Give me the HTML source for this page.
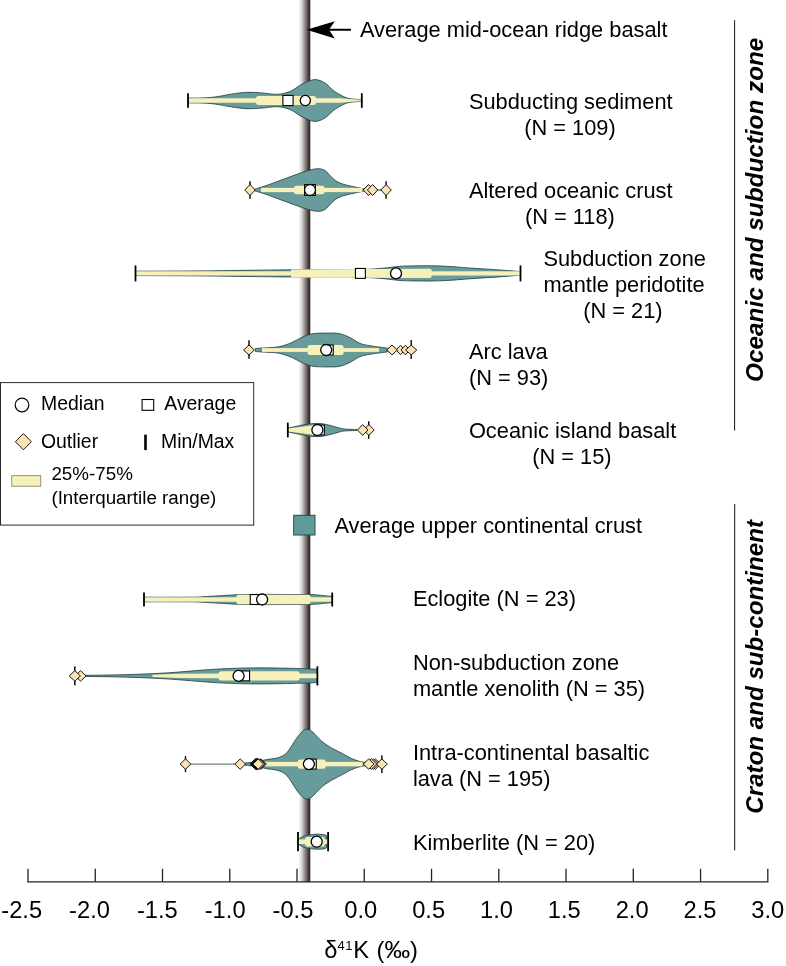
<!DOCTYPE html>
<html><head><meta charset="utf-8"><title>K isotope violin plot</title>
<style>
html,body{margin:0;padding:0;background:#fff;}
body{width:786px;height:966px;overflow:hidden;}
svg{display:block;}
text{font-family:"Liberation Sans",sans-serif;fill:#000;}
.lb{font-size:21.82px;}
.lg{font-size:18.8px;}
.lg2{font-size:19.4px;}
.ax{font-size:23.7px;}
.rt{font-size:24px;font-weight:bold;font-style:italic;}
</style></head>
<body>
<svg width="786" height="966" viewBox="0 0 786 966">
<defs>
<linearGradient id="barg" x1="0" y1="0" x2="1" y2="0">
<stop offset="0" stop-color="#ffffff"/>
<stop offset="0.25" stop-color="#dcdad9"/>
<stop offset="0.5" stop-color="#9d9896"/>
<stop offset="0.75" stop-color="#5f5654"/>
<stop offset="0.9" stop-color="#382d2b"/>
<stop offset="1" stop-color="#2e2422"/>
</linearGradient>
</defs>
<rect x="0" y="0" width="786" height="966" fill="#fff"/>
<rect x="298.5" y="0" width="11.8" height="882" fill="url(#barg)"/>
<line x1="318" y1="29.8" x2="351" y2="29.8" stroke="#000" stroke-width="2"/>
<path d="M306.5,29.8 L334.8,21.3 L329,29.8 L334.8,38.6 Z" fill="#000"/>
<path d="M188.00,98.10 C190.00,98.08 196.33,98.10 200.00,98.00 C203.67,97.90 206.67,97.80 210.00,97.50 C213.33,97.20 216.33,96.78 220.00,96.20 C223.67,95.62 227.50,94.65 232.00,94.00 C236.50,93.35 242.00,92.48 247.00,92.30 C252.00,92.12 257.00,92.57 262.00,92.90 C267.00,93.23 272.33,94.53 277.00,94.30 C281.67,94.07 285.83,93.18 290.00,91.50 C294.17,89.82 297.92,86.18 302.00,84.20 C306.08,82.22 310.67,79.80 314.50,79.60 C318.33,79.40 321.82,81.15 325.00,83.00 C328.18,84.85 330.47,88.42 333.60,90.70 C336.73,92.98 340.83,95.33 343.80,96.70 C346.77,98.07 348.37,98.42 351.40,98.90 C354.43,99.38 360.23,99.48 362.00,99.60 L362.00,101.40 C360.23,101.52 354.43,101.62 351.40,102.10 C348.37,102.58 346.77,102.93 343.80,104.30 C340.83,105.67 336.73,108.02 333.60,110.30 C330.47,112.58 328.18,116.15 325.00,118.00 C321.82,119.85 318.33,121.60 314.50,121.40 C310.67,121.20 306.08,118.78 302.00,116.80 C297.92,114.82 294.17,111.18 290.00,109.50 C285.83,107.82 281.67,106.93 277.00,106.70 C272.33,106.47 267.00,107.77 262.00,108.10 C257.00,108.43 252.00,108.88 247.00,108.70 C242.00,108.52 236.50,107.65 232.00,107.00 C227.50,106.35 223.67,105.38 220.00,104.80 C216.33,104.22 213.33,103.80 210.00,103.50 C206.67,103.20 203.67,103.10 200.00,103.00 C196.33,102.90 190.00,102.92 188.00,102.90 Z" fill="#689b9b" stroke="#1f3a3c" stroke-width="0.8"/>
<path d="M188,98.3 L340,98.3 L352,99.2 L362,99.7 L362,101.3 L352,101.8 L340,102.7 L188,102.7 Z" fill="#f6f1ba"/>
<rect x="256.00" y="95.90" width="60.00" height="9.20" rx="2.5" ry="2.5" fill="#f6f1ba"/>
<line x1="188.00" y1="93.20" x2="188.00" y2="107.80" stroke="#000" stroke-width="1.8"/>
<line x1="361.80" y1="93.20" x2="361.80" y2="107.80" stroke="#000" stroke-width="1.8"/>
<rect x="282.90" y="95.40" width="10.2" height="10.2" fill="#fff" stroke="#000" stroke-width="1.1"/>
<circle cx="305.30" cy="100.50" r="5.1" fill="#fff" stroke="#000" stroke-width="1.3"/>
<line x1="364" y1="190.0" x2="386" y2="190.0" stroke="#3f7475" stroke-width="1.4"/>
<path d="M254.50,189.20 C256.25,188.67 260.75,187.45 265.00,186.00 C269.25,184.55 275.00,182.33 280.00,180.50 C285.00,178.67 290.33,176.67 295.00,175.00 C299.67,173.33 304.17,171.55 308.00,170.50 C311.83,169.45 315.17,168.70 318.00,168.70 C320.83,168.70 322.83,169.20 325.00,170.50 C327.17,171.80 329.00,174.65 331.00,176.50 C333.00,178.35 334.50,180.18 337.00,181.60 C339.50,183.02 342.83,184.07 346.00,185.00 C349.17,185.93 352.75,186.50 356.00,187.20 C359.25,187.90 363.92,188.87 365.50,189.20 L365.50,190.80 C363.92,191.13 359.25,192.10 356.00,192.80 C352.75,193.50 349.17,194.07 346.00,195.00 C342.83,195.93 339.50,196.98 337.00,198.40 C334.50,199.82 333.00,201.65 331.00,203.50 C329.00,205.35 327.17,208.20 325.00,209.50 C322.83,210.80 320.83,211.30 318.00,211.30 C315.17,211.30 311.83,210.55 308.00,209.50 C304.17,208.45 299.67,206.67 295.00,205.00 C290.33,203.33 285.00,201.33 280.00,199.50 C275.00,197.67 269.25,195.45 265.00,194.00 C260.75,192.55 256.25,191.33 254.50,190.80 Z" fill="#689b9b" stroke="#1f3a3c" stroke-width="0.8"/>
<rect x="261.00" y="187.90" width="101.30" height="4.20" rx="0" ry="0" fill="#f6f1ba"/>
<rect x="294.00" y="185.70" width="30.50" height="8.60" rx="2.5" ry="2.5" fill="#f6f1ba"/>
<line x1="250.00" y1="181.30" x2="250.00" y2="198.70" stroke="#000" stroke-width="1.4"/>
<line x1="386.10" y1="181.30" x2="386.10" y2="198.70" stroke="#000" stroke-width="1.4"/>
<path d="M244.80,190.00 L250.00,184.50 L255.20,190.00 L250.00,195.50 Z" fill="#f9e2b4" stroke="#000" stroke-width="0.9" stroke-linejoin="miter"/>
<path d="M363.30,190.00 L368.50,184.50 L373.70,190.00 L368.50,195.50 Z" fill="#f9e2b4" stroke="#000" stroke-width="0.9" stroke-linejoin="miter"/>
<path d="M367.40,190.00 L372.60,184.50 L377.80,190.00 L372.60,195.50 Z" fill="#f9e2b4" stroke="#000" stroke-width="0.9" stroke-linejoin="miter"/>
<path d="M380.90,190.00 L386.10,184.50 L391.30,190.00 L386.10,195.50 Z" fill="#f9e2b4" stroke="#000" stroke-width="0.9" stroke-linejoin="miter"/>
<rect x="304.60" y="184.60" width="10.8" height="10.8" fill="#fff" stroke="#000" stroke-width="1.1"/>
<circle cx="310.00" cy="190.00" r="5.5" fill="#fff" stroke="#000" stroke-width="1.3"/>
<path d="M135.50,271.20 C140.42,271.18 154.25,271.15 165.00,271.10 C175.75,271.05 187.50,271.02 200.00,270.90 C212.50,270.78 226.67,270.57 240.00,270.40 C253.33,270.23 268.33,270.00 280.00,269.90 C291.67,269.80 300.00,269.82 310.00,269.80 C320.00,269.78 330.83,269.87 340.00,269.80 C349.17,269.73 357.50,269.70 365.00,269.40 C372.50,269.10 379.17,268.52 385.00,268.00 C390.83,267.48 395.33,266.65 400.00,266.30 C404.67,265.95 407.50,265.98 413.00,265.90 C418.50,265.82 426.83,265.70 433.00,265.80 C439.17,265.90 445.17,266.23 450.00,266.50 C454.83,266.77 458.00,267.10 462.00,267.40 C466.00,267.70 467.83,267.88 474.00,268.30 C480.17,268.72 491.25,269.35 499.00,269.90 C506.75,270.45 516.92,271.32 520.50,271.60 L520.50,275.20 C516.92,275.48 506.75,276.35 499.00,276.90 C491.25,277.45 480.17,278.08 474.00,278.50 C467.83,278.92 466.00,279.10 462.00,279.40 C458.00,279.70 454.83,280.03 450.00,280.30 C445.17,280.57 439.17,280.90 433.00,281.00 C426.83,281.10 418.50,280.98 413.00,280.90 C407.50,280.82 404.67,280.85 400.00,280.50 C395.33,280.15 390.83,279.32 385.00,278.80 C379.17,278.28 372.50,277.70 365.00,277.40 C357.50,277.10 349.17,277.07 340.00,277.00 C330.83,276.93 320.00,277.02 310.00,277.00 C300.00,276.98 291.67,277.00 280.00,276.90 C268.33,276.80 253.33,276.57 240.00,276.40 C226.67,276.23 212.50,276.02 200.00,275.90 C187.50,275.78 175.75,275.75 165.00,275.70 C154.25,275.65 140.42,275.62 135.50,275.60 Z" fill="#689b9b" stroke="#1f3a3c" stroke-width="0.8"/>
<rect x="135.50" y="271.30" width="385.00" height="4.20" rx="0" ry="0" fill="#f6f1ba"/>
<path d="M291,269.4 L429.5,268.7 Q431.8,268.7 431.8,271.0 L431.8,275.79999999999995 Q431.8,278.09999999999997 429.5,278.09999999999997 L291,277.4 Z" fill="#f6f1ba"/>
<line x1="135.50" y1="265.40" x2="135.50" y2="281.40" stroke="#000" stroke-width="1.8"/>
<line x1="520.50" y1="265.40" x2="520.50" y2="281.40" stroke="#000" stroke-width="1.8"/>
<rect x="355.45" y="268.45" width="9.9" height="9.9" fill="#fff" stroke="#000" stroke-width="1.1"/>
<circle cx="396.00" cy="273.40" r="5.5" fill="#fff" stroke="#000" stroke-width="1.3"/>
<path d="M255.40,348.50 C256.50,348.42 259.90,348.13 262.00,348.00 C264.10,347.87 265.00,347.93 268.00,347.70 C271.00,347.47 276.00,347.47 280.00,346.60 C284.00,345.73 288.17,344.13 292.00,342.50 C295.83,340.87 299.50,338.27 303.00,336.80 C306.50,335.33 309.17,334.32 313.00,333.70 C316.83,333.08 321.67,333.12 326.00,333.10 C330.33,333.08 335.00,332.85 339.00,333.60 C343.00,334.35 346.50,335.97 350.00,337.60 C353.50,339.23 356.67,342.05 360.00,343.40 C363.33,344.75 367.00,345.12 370.00,345.70 C373.00,346.28 375.33,346.53 378.00,346.90 C380.67,347.27 384.25,347.58 386.00,347.90 C387.75,348.22 388.08,348.65 388.50,348.80 L388.50,351.20 C388.08,351.35 387.75,351.78 386.00,352.10 C384.25,352.42 380.67,352.73 378.00,353.10 C375.33,353.47 373.00,353.72 370.00,354.30 C367.00,354.88 363.33,355.25 360.00,356.60 C356.67,357.95 353.50,360.77 350.00,362.40 C346.50,364.03 343.00,365.65 339.00,366.40 C335.00,367.15 330.33,366.92 326.00,366.90 C321.67,366.88 316.83,366.92 313.00,366.30 C309.17,365.68 306.50,364.67 303.00,363.20 C299.50,361.73 295.83,359.13 292.00,357.50 C288.17,355.87 284.00,354.27 280.00,353.40 C276.00,352.53 271.00,352.53 268.00,352.30 C265.00,352.07 264.10,352.13 262.00,352.00 C259.90,351.87 256.50,351.58 255.40,351.50 Z" fill="#689b9b" stroke="#1f3a3c" stroke-width="0.8"/>
<rect x="262.00" y="348.10" width="117.00" height="3.80" rx="0" ry="0" fill="#f6f1ba"/>
<rect x="307.50" y="345.00" width="36.10" height="10.00" rx="2.5" ry="2.5" fill="#f6f1ba"/>
<line x1="249.00" y1="340.20" x2="249.00" y2="358.80" stroke="#000" stroke-width="1.4"/>
<line x1="411.20" y1="339.90" x2="411.20" y2="358.90" stroke="#000" stroke-width="1.4"/>
<path d="M243.60,350.00 L249.00,345.00 L254.40,350.00 L249.00,355.00 Z" fill="#f9e2b4" stroke="#000" stroke-width="0.9" stroke-linejoin="miter"/>
<path d="M396.10,350.00 L400.50,345.20 L404.90,350.00 L400.50,354.80 Z" fill="#f9e2b4" stroke="#000" stroke-width="0.9" stroke-linejoin="miter"/>
<path d="M401.00,350.00 L405.40,345.20 L409.80,350.00 L405.40,354.80 Z" fill="#f9e2b4" stroke="#000" stroke-width="0.9" stroke-linejoin="miter"/>
<path d="M386.60,350.00 L392.00,345.10 L397.40,350.00 L392.00,354.90 Z" fill="#f9e2b4" stroke="#000" stroke-width="0.9" stroke-linejoin="miter"/>
<path d="M405.60,350.00 L411.20,345.10 L416.80,350.00 L411.20,354.90 Z" fill="#f9e2b4" stroke="#000" stroke-width="0.9" stroke-linejoin="miter"/>
<rect x="323.35" y="345.05" width="9.9" height="9.9" fill="#fff" stroke="#000" stroke-width="1.1"/>
<circle cx="326.20" cy="350.00" r="5.5" fill="#fff" stroke="#000" stroke-width="1.3"/>
<path d="M288.00,428.00 C289.33,427.73 293.17,426.97 296.00,426.40 C298.83,425.83 302.00,425.08 305.00,424.60 C308.00,424.12 311.17,423.65 314.00,423.50 C316.83,423.35 319.33,423.38 322.00,423.70 C324.67,424.02 327.33,424.75 330.00,425.40 C332.67,426.05 335.67,427.00 338.00,427.60 C340.33,428.20 340.83,428.68 344.00,429.00 C347.17,429.32 354.83,429.42 357.00,429.50 L357.00,430.50 C354.83,430.58 347.17,430.68 344.00,431.00 C340.83,431.32 340.33,431.80 338.00,432.40 C335.67,433.00 332.67,433.95 330.00,434.60 C327.33,435.25 324.67,435.98 322.00,436.30 C319.33,436.62 316.83,436.65 314.00,436.50 C311.17,436.35 308.00,435.88 305.00,435.40 C302.00,434.92 298.83,434.17 296.00,433.60 C293.17,433.03 289.33,432.27 288.00,432.00 Z" fill="#689b9b" stroke="#1f3a3c" stroke-width="0.8"/>
<path d="M288,428.5 L300,427.1 L313,425.3 L319,425.3 L319,434.7 L313,434.7 L300,432.9 L288,431.5 Z" fill="#f6f1ba"/>
<line x1="287.80" y1="422.60" x2="287.80" y2="437.40" stroke="#000" stroke-width="1.8"/>
<line x1="368.70" y1="421.30" x2="368.70" y2="438.70" stroke="#000" stroke-width="1.4"/>
<path d="M363.60,430.00 L368.90,424.60 L374.20,430.00 L368.90,435.40 Z" fill="#f9e2b4" stroke="#000" stroke-width="0.9" stroke-linejoin="miter"/>
<path d="M357.40,430.00 L362.70,424.60 L368.00,430.00 L362.70,435.40 Z" fill="#f9e2b4" stroke="#000" stroke-width="0.9" stroke-linejoin="miter"/>
<rect x="314.45" y="425.05" width="9.9" height="9.9" fill="#fff" stroke="#000" stroke-width="1.1"/>
<circle cx="317.40" cy="430.00" r="5.5" fill="#fff" stroke="#000" stroke-width="1.3"/>
<rect x="293.7" y="515.3" width="21.3" height="19.7" fill="#5f9b9b" stroke="#2b4a4c" stroke-width="1"/>
<path d="M144.00,597.20 C148.33,597.20 161.50,597.22 170.00,597.20 C178.50,597.18 189.50,597.18 195.00,597.10 C200.50,597.02 198.83,596.92 203.00,596.70 C207.17,596.48 214.50,596.12 220.00,595.80 C225.50,595.48 229.33,595.03 236.00,594.80 C242.67,594.57 251.00,594.45 260.00,594.40 C269.00,594.35 281.67,594.47 290.00,594.50 C298.33,594.53 305.00,594.48 310.00,594.60 C315.00,594.72 316.30,594.88 320.00,595.20 C323.70,595.52 330.17,596.28 332.20,596.50 L332.20,602.50 C330.17,602.72 323.70,603.48 320.00,603.80 C316.30,604.12 315.00,604.28 310.00,604.40 C305.00,604.52 298.33,604.47 290.00,604.50 C281.67,604.53 269.00,604.65 260.00,604.60 C251.00,604.55 242.67,604.43 236.00,604.20 C229.33,603.97 225.50,603.52 220.00,603.20 C214.50,602.88 207.17,602.52 203.00,602.30 C198.83,602.08 200.50,601.98 195.00,601.90 C189.50,601.82 178.50,601.82 170.00,601.80 C161.50,601.78 148.33,601.80 144.00,601.80 Z" fill="#689b9b" stroke="#1f3a3c" stroke-width="0.8"/>
<rect x="144.00" y="597.30" width="188.20" height="4.40" rx="0" ry="0" fill="#f6f1ba"/>
<rect x="236.40" y="594.75" width="74.10" height="9.50" rx="2.5" ry="2.5" fill="#f6f1ba"/>
<line x1="144.00" y1="592.50" x2="144.00" y2="606.50" stroke="#000" stroke-width="1.8"/>
<line x1="332.20" y1="592.50" x2="332.20" y2="606.50" stroke="#000" stroke-width="1.8"/>
<rect x="250.25" y="594.55" width="9.9" height="9.9" fill="#fff" stroke="#000" stroke-width="1.1"/>
<circle cx="262.10" cy="599.50" r="5.5" fill="#fff" stroke="#000" stroke-width="1.3"/>
<path d="M82.00,675.40 C86.67,675.33 100.33,675.20 110.00,675.00 C119.67,674.80 130.00,674.58 140.00,674.20 C150.00,673.82 160.00,673.35 170.00,672.70 C180.00,672.05 190.83,670.97 200.00,670.30 C209.17,669.63 216.17,669.10 225.00,668.70 C233.83,668.30 243.83,668.00 253.00,667.90 C262.17,667.80 271.33,667.97 280.00,668.10 C288.67,668.23 298.80,668.50 305.00,668.70 C311.20,668.90 315.17,669.20 317.20,669.30 L317.20,682.50 C315.17,682.60 311.20,682.90 305.00,683.10 C298.80,683.30 288.67,683.57 280.00,683.70 C271.33,683.83 262.17,684.00 253.00,683.90 C243.83,683.80 233.83,683.50 225.00,683.10 C216.17,682.70 209.17,682.17 200.00,681.50 C190.83,680.83 180.00,679.75 170.00,679.10 C160.00,678.45 150.00,677.98 140.00,677.60 C130.00,677.22 119.67,677.00 110.00,676.80 C100.33,676.60 86.67,676.47 82.00,676.40 Z" fill="#689b9b" stroke="#1f3a3c" stroke-width="0.8"/>
<path d="M152.4,674.6999999999999 L180,673.8 L219,673.5 L219,678.3 L180,678.0 L152.4,677.1 Z" fill="#f6f1ba"/>
<rect x="218.70" y="671.25" width="81.00" height="9.30" rx="2.5" ry="2.5" fill="#f6f1ba"/>
<rect x="299.00" y="673.60" width="18.20" height="4.60" rx="0" ry="0" fill="#f6f1ba"/>
<line x1="74.80" y1="666.50" x2="74.80" y2="685.30" stroke="#000" stroke-width="1.5"/>
<line x1="317.40" y1="666.30" x2="317.40" y2="685.50" stroke="#000" stroke-width="1.8"/>
<path d="M75.00,675.90 L80.60,670.60 L86.20,675.90 L80.60,681.20 Z" fill="#f9e2b4" stroke="#000" stroke-width="0.9" stroke-linejoin="miter"/>
<path d="M69.20,675.90 L74.80,670.60 L80.40,675.90 L74.80,681.20 Z" fill="#f9e2b4" stroke="#000" stroke-width="0.9" stroke-linejoin="miter"/>
<rect x="239.65" y="670.95" width="9.9" height="9.9" fill="#fff" stroke="#000" stroke-width="1.1"/>
<circle cx="238.60" cy="675.90" r="5.5" fill="#fff" stroke="#000" stroke-width="1.3"/>
<line x1="185" y1="764.1" x2="252" y2="764.1" stroke="#333" stroke-width="0.8"/>
<path d="M245.00,763.10 C246.00,762.97 248.87,762.53 251.00,762.30 C253.13,762.07 255.20,762.17 257.80,761.70 C260.40,761.23 263.57,760.07 266.60,759.50 C269.63,758.93 273.27,758.93 276.00,758.30 C278.73,757.67 281.13,756.72 283.00,755.70 C284.87,754.68 285.80,753.77 287.20,752.20 C288.60,750.63 289.72,748.80 291.40,746.30 C293.08,743.80 295.33,739.80 297.30,737.20 C299.27,734.60 301.58,732.03 303.20,730.70 C304.82,729.37 305.55,729.10 307.00,729.20 C308.45,729.30 310.35,730.22 311.90,731.30 C313.45,732.38 314.58,733.98 316.30,735.70 C318.02,737.42 320.00,739.75 322.20,741.60 C324.40,743.45 327.20,745.35 329.50,746.80 C331.80,748.25 334.00,749.25 336.00,750.30 C338.00,751.35 339.07,751.80 341.50,753.10 C343.93,754.40 347.75,756.77 350.60,758.10 C353.45,759.43 356.20,760.38 358.60,761.10 C361.00,761.82 362.93,762.07 365.00,762.40 C367.07,762.73 370.00,762.98 371.00,763.10 L371.00,765.10 C370.00,765.22 367.07,765.47 365.00,765.80 C362.93,766.13 361.00,766.38 358.60,767.10 C356.20,767.82 353.45,768.77 350.60,770.10 C347.75,771.43 343.93,773.80 341.50,775.10 C339.07,776.40 338.00,776.85 336.00,777.90 C334.00,778.95 331.80,779.95 329.50,781.40 C327.20,782.85 324.40,784.75 322.20,786.60 C320.00,788.45 318.02,790.78 316.30,792.50 C314.58,794.22 313.45,795.82 311.90,796.90 C310.35,797.98 308.45,798.90 307.00,799.00 C305.55,799.10 304.82,798.83 303.20,797.50 C301.58,796.17 299.27,793.60 297.30,791.00 C295.33,788.40 293.08,784.40 291.40,781.90 C289.72,779.40 288.60,777.57 287.20,776.00 C285.80,774.43 284.87,773.52 283.00,772.50 C281.13,771.48 278.73,770.53 276.00,769.90 C273.27,769.27 269.63,769.27 266.60,768.70 C263.57,768.13 260.40,766.97 257.80,766.50 C255.20,766.03 253.13,766.13 251.00,765.90 C248.87,765.67 246.00,765.23 245.00,765.10 Z" fill="#689b9b" stroke="#1f3a3c" stroke-width="0.8"/>
<rect x="264.00" y="761.85" width="98.50" height="4.50" rx="0" ry="0" fill="#f6f1ba"/>
<rect x="297.70" y="759.50" width="28.00" height="9.20" rx="2.5" ry="2.5" fill="#f6f1ba"/>
<line x1="185.50" y1="756.10" x2="185.50" y2="772.10" stroke="#000" stroke-width="1.4"/>
<line x1="381.90" y1="755.20" x2="381.90" y2="773.00" stroke="#000" stroke-width="1.4"/>
<path d="M180.10,764.10 L185.50,758.90 L190.90,764.10 L185.50,769.30 Z" fill="#f9e2b4" stroke="#000" stroke-width="0.9" stroke-linejoin="miter"/>
<path d="M234.80,764.10 L240.20,758.90 L245.60,764.10 L240.20,769.30 Z" fill="#f9e2b4" stroke="#000" stroke-width="0.9" stroke-linejoin="miter"/>
<path d="M250.00,764.10 L255.60,758.70 L261.20,764.10 L255.60,769.50 Z" fill="#f9e2b4" stroke="#000" stroke-width="1.0" stroke-linejoin="miter"/>
<path d="M250.50,764.10 L256.10,758.70 L261.70,764.10 L256.10,769.50 Z" fill="#f9e2b4" stroke="#000" stroke-width="1.0" stroke-linejoin="miter"/>
<path d="M251.00,764.10 L256.60,758.70 L262.20,764.10 L256.60,769.50 Z" fill="#f9e2b4" stroke="#000" stroke-width="1.0" stroke-linejoin="miter"/>
<path d="M251.50,764.10 L257.10,758.70 L262.70,764.10 L257.10,769.50 Z" fill="#f9e2b4" stroke="#000" stroke-width="1.0" stroke-linejoin="miter"/>
<path d="M252.00,764.10 L257.60,758.70 L263.20,764.10 L257.60,769.50 Z" fill="#f9e2b4" stroke="#000" stroke-width="1.0" stroke-linejoin="miter"/>
<path d="M255.60,764.10 L261.00,758.90 L266.40,764.10 L261.00,769.30 Z" fill="#f9e2b4" stroke="#000" stroke-width="0.9" stroke-linejoin="miter"/>
<path d="M254.40,764.10 L259.80,758.90 L265.20,764.10 L259.80,769.30 Z" fill="#f9e2b4" stroke="#000" stroke-width="0.9" stroke-linejoin="miter"/>
<path d="M252.80,764.10 L258.20,758.90 L263.60,764.10 L258.20,769.30 Z" fill="#f9e2b4" stroke="#000" stroke-width="1.0" stroke-linejoin="miter"/>
<path d="M370.00,764.10 L375.40,758.90 L380.80,764.10 L375.40,769.30 Z" fill="#f9e2b4" stroke="#000" stroke-width="0.9" stroke-linejoin="miter"/>
<path d="M368.00,764.10 L373.40,758.90 L378.80,764.10 L373.40,769.30 Z" fill="#f9e2b4" stroke="#000" stroke-width="0.9" stroke-linejoin="miter"/>
<path d="M366.00,764.10 L371.40,758.90 L376.80,764.10 L371.40,769.30 Z" fill="#f9e2b4" stroke="#000" stroke-width="0.9" stroke-linejoin="miter"/>
<path d="M363.30,764.10 L368.70,758.90 L374.10,764.10 L368.70,769.30 Z" fill="#f9e2b4" stroke="#000" stroke-width="0.9" stroke-linejoin="miter"/>
<path d="M376.50,764.10 L381.90,758.90 L387.30,764.10 L381.90,769.30 Z" fill="#f9e2b4" stroke="#000" stroke-width="0.9" stroke-linejoin="miter"/>
<rect x="306.35" y="759.15" width="9.9" height="9.9" fill="#fff" stroke="#000" stroke-width="1.1"/>
<circle cx="308.90" cy="764.10" r="5.5" fill="#fff" stroke="#000" stroke-width="1.3"/>
<path d="M297.80,839.30 C298.22,839.08 299.27,838.53 300.30,838.00 C301.33,837.47 302.73,836.58 304.00,836.10 C305.27,835.62 305.98,835.42 307.90,835.10 C309.82,834.78 313.32,834.33 315.50,834.20 C317.68,834.07 319.47,834.22 321.00,834.30 C322.53,834.38 323.77,834.47 324.70,834.70 C325.63,834.93 326.28,835.53 326.60,835.70 L326.60,847.70 C326.28,847.87 325.63,848.47 324.70,848.70 C323.77,848.93 322.53,849.02 321.00,849.10 C319.47,849.18 317.68,849.33 315.50,849.20 C313.32,849.07 309.82,848.62 307.90,848.30 C305.98,847.98 305.27,847.78 304.00,847.30 C302.73,846.82 301.33,845.93 300.30,845.40 C299.27,844.87 298.22,844.32 297.80,844.10 Z" fill="#689b9b" stroke="#1f3a3c" stroke-width="0.8"/>
<rect x="296.50" y="839.40" width="33.20" height="4.60" rx="0" ry="0" fill="#f6f1ba"/>
<rect x="305.20" y="836.95" width="19.50" height="9.50" rx="2" ry="2" fill="#f6f1ba"/>
<line x1="298.00" y1="832.10" x2="298.00" y2="851.30" stroke="#000" stroke-width="1.8"/>
<line x1="328.10" y1="832.10" x2="328.10" y2="851.30" stroke="#000" stroke-width="1.8"/>
<circle cx="316.70" cy="841.70" r="5.5" fill="#fff" stroke="#000" stroke-width="1.3"/>
<line x1="27.3" y1="881.8" x2="768.5" y2="881.8" stroke="#222" stroke-width="1.3"/>
<line x1="28.00" y1="868.8" x2="28.00" y2="881.8" stroke="#222" stroke-width="1.3"/>
<line x1="95.25" y1="868.8" x2="95.25" y2="881.8" stroke="#222" stroke-width="1.3"/>
<line x1="162.51" y1="868.8" x2="162.51" y2="881.8" stroke="#222" stroke-width="1.3"/>
<line x1="229.76" y1="868.8" x2="229.76" y2="881.8" stroke="#222" stroke-width="1.3"/>
<line x1="297.02" y1="868.8" x2="297.02" y2="881.8" stroke="#222" stroke-width="1.3"/>
<line x1="364.27" y1="868.8" x2="364.27" y2="881.8" stroke="#222" stroke-width="1.3"/>
<line x1="431.53" y1="868.8" x2="431.53" y2="881.8" stroke="#222" stroke-width="1.3"/>
<line x1="498.78" y1="868.8" x2="498.78" y2="881.8" stroke="#222" stroke-width="1.3"/>
<line x1="566.04" y1="868.8" x2="566.04" y2="881.8" stroke="#222" stroke-width="1.3"/>
<line x1="633.29" y1="868.8" x2="633.29" y2="881.8" stroke="#222" stroke-width="1.3"/>
<line x1="700.55" y1="868.8" x2="700.55" y2="881.8" stroke="#222" stroke-width="1.3"/>
<line x1="767.80" y1="868.8" x2="767.80" y2="881.8" stroke="#222" stroke-width="1.3"/>
<line x1="734.6" y1="20.2" x2="734.6" y2="430.5" stroke="#111" stroke-width="1"/>
<line x1="734.7" y1="504.1" x2="734.7" y2="850.4" stroke="#111" stroke-width="1"/>
<rect x="0.5" y="382.6" width="253.2" height="142.5" fill="#fff" stroke="#2a2a2a" stroke-width="1"/>
<circle cx="22" cy="405" r="6.8" fill="#fff" stroke="#000" stroke-width="1.2"/>
<rect x="142.1" y="399.5" width="11.6" height="10.8" fill="#fff" stroke="#000" stroke-width="1.1"/>
<path d="M15.40,441.70 L23.40,433.60 L31.40,441.70 L23.40,449.80 Z" fill="#f9e2b4" stroke="#000" stroke-width="0.9" stroke-linejoin="miter"/>
<line x1="145.5" y1="434.6" x2="145.5" y2="450.1" stroke="#000" stroke-width="2.6"/>
<rect x="11.8" y="475.7" width="29" height="10.5" fill="#f6f1ba" stroke="#7d7957" stroke-width="0.8"/>
<g style="filter:grayscale(1)">
<text x="21.67" y="917.9" text-anchor="middle" class="ax">-2.5</text>
<text x="89.50" y="917.9" text-anchor="middle" class="ax">-2.0</text>
<text x="157.33" y="917.9" text-anchor="middle" class="ax">-1.5</text>
<text x="225.16" y="917.9" text-anchor="middle" class="ax">-1.0</text>
<text x="292.99" y="917.9" text-anchor="middle" class="ax">-0.5</text>
<text x="360.82" y="917.9" text-anchor="middle" class="ax">0.0</text>
<text x="428.65" y="917.9" text-anchor="middle" class="ax">0.5</text>
<text x="496.48" y="917.9" text-anchor="middle" class="ax">1.0</text>
<text x="564.31" y="917.9" text-anchor="middle" class="ax">1.5</text>
<text x="632.14" y="917.9" text-anchor="middle" class="ax">2.0</text>
<text x="699.97" y="917.9" text-anchor="middle" class="ax">2.5</text>
<text x="767.80" y="917.9" text-anchor="middle" class="ax">3.0</text>
<text x="324.2" y="957.9" class="ax">δ</text>
<text x="337.5" y="949.7" class="ax" style="font-size:13px;letter-spacing:0.4px">41</text>
<text x="353.3" y="957.9" class="ax">K</text>
<text x="376.5" y="957.9" class="ax">(</text>
<text transform="translate(384.4,957.9) scale(1.085,1)" class="ax">‰</text>
<text x="409.9" y="957.9" class="ax">)</text>
<text x="359.9" y="36.6" text-anchor="start" class="lb">Average mid-ocean ridge basalt</text>
<text x="468.9" y="108.6" text-anchor="start" class="lb">Subducting sediment</text>
<text x="569.9" y="134.6" text-anchor="middle" class="lb">(N = 109)</text>
<text x="468.9" y="198.0" text-anchor="start" class="lb">Altered oceanic crust</text>
<text x="569.9" y="224.0" text-anchor="middle" class="lb">(N = 118)</text>
<text x="543.4" y="266.0" text-anchor="start" class="lb">Subduction zone</text>
<text x="543.4" y="292.0" text-anchor="start" class="lb">mantle peridotite</text>
<text x="622.9" y="318.0" text-anchor="middle" class="lb">(N = 21)</text>
<text x="468.9" y="358.6" text-anchor="start" class="lb">Arc lava</text>
<text x="468.9" y="384.6" text-anchor="start" class="lb">(N = 93)</text>
<text x="468.9" y="437.6" text-anchor="start" class="lb">Oceanic island basalt</text>
<text x="571.9" y="463.6" text-anchor="middle" class="lb">(N = 15)</text>
<text x="334.4" y="532.6" text-anchor="start" class="lb">Average upper continental crust</text>
<text x="412.9" y="605.6" text-anchor="start" class="lb">Eclogite (N = 23)</text>
<text x="412.9" y="670.1" text-anchor="start" class="lb">Non-subduction zone</text>
<text x="412.9" y="696.1" text-anchor="start" class="lb">mantle xenolith (N = 35)</text>
<text x="412.9" y="760.2" text-anchor="start" class="lb">Intra-continental basaltic</text>
<text x="412.9" y="786.2" text-anchor="start" class="lb">lava (N = 195)</text>
<text x="412.9" y="850.2" text-anchor="start" class="lb">Kimberlite (N = 20)</text>
<text transform="translate(763.2,381.9) rotate(-90)" class="rt" style="font-size:24.3px">Oceanic and subduction zone</text>
<text transform="translate(763,813.7) rotate(-90)" class="rt" style="font-size:24.15px">Craton and sub-continent</text>
<text x="41" y="410.3" text-anchor="start" class="lg2">Median</text>
<text x="164.3" y="410.3" text-anchor="start" class="lg2">Average</text>
<text x="41" y="447.6" text-anchor="start" class="lg2">Outlier</text>
<text x="161" y="447.6" text-anchor="start" class="lg2">Min/Max</text>
<text x="51.4" y="480.3" text-anchor="start" class="lg">25%-75%</text>
<text x="51.4" y="504.1" text-anchor="start" class="lg">(Interquartile range)</text>
</g>
</svg>
</body></html>
